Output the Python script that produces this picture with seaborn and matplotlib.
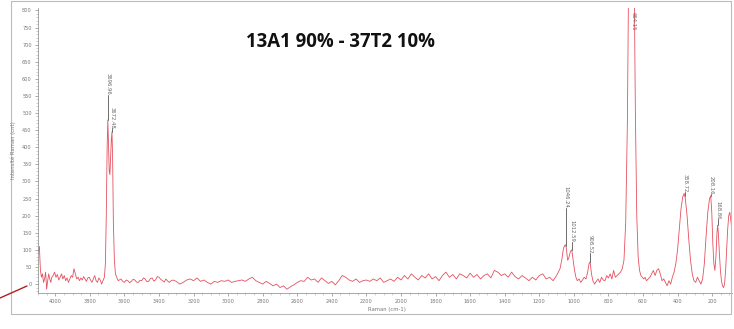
import numpy as np
import pandas as pd
import matplotlib
matplotlib.use("Agg")
import matplotlib.pyplot as plt
import seaborn as sns
from matplotlib.ticker import MultipleLocator
from matplotlib.patches import Rectangle
from matplotlib.lines import Line2D

# ---------------- data ----------------
wavenumber = [
    4098, 4092, 4086, 4080, 4074, 4068, 4062, 4056, 4050, 4044, 4038, 4032, 4026, 4020, 4012,
    4004, 3996, 3988, 3980, 3972, 3964, 3956, 3948, 3940, 3932, 3924, 3916, 3908, 3900, 3892,
    3884, 3876, 3868, 3860, 3852, 3844, 3836, 3828, 3820, 3812, 3804, 3796, 3788, 3780, 3772,
    3764, 3756, 3748, 3740, 3732, 3724, 3716, 3710, 3705, 3700, 3696, 3692, 3688, 3684, 3680,
    3676, 3672, 3668, 3664, 3658, 3652, 3645, 3636,
    3620, 3610, 3600, 3590, 3580, 3570, 3560, 3550, 3540, 3530, 3520, 3510, 3500, 3490, 3480,
    3470, 3460, 3450, 3440, 3430, 3420, 3410, 3400, 3390, 3380, 3370, 3360, 3350, 3340, 3330,
    3320, 3300, 3280, 3260, 3240, 3220, 3200, 3180, 3160, 3140, 3120, 3100, 3080, 3060, 3040,
    3020, 3000, 2980, 2960, 2940, 2920, 2900, 2880, 2860, 2840, 2820, 2800, 2780, 2760, 2740,
    2720, 2700, 2680, 2660, 2640, 2620, 2600, 2580, 2560, 2540, 2520, 2500, 2480, 2460, 2440,
    2420, 2400, 2380, 2360, 2340, 2320, 2300, 2280, 2260, 2240, 2220, 2200, 2180, 2160, 2140,
    2120, 2100, 2080, 2060, 2040, 2020, 2000, 1980, 1960, 1940, 1920, 1900, 1880, 1860, 1840,
    1820, 1800, 1780, 1760, 1740, 1720, 1700, 1680, 1660, 1640, 1620, 1600, 1580, 1560, 1540,
    1520, 1500, 1480, 1460, 1440, 1420, 1400, 1380, 1360, 1340, 1320, 1300, 1280, 1260, 1240,
    1220, 1200, 1180, 1160, 1140, 1120, 1100, 1090, 1080, 1070, 1060, 1050, 1044, 1036, 1030,
    1020, 1012, 1004, 996, 988, 980, 970, 960, 950, 940, 930, 920, 912, 906, 898,
    890, 880, 870, 860, 850, 840, 830, 820, 810, 800, 790, 780, 770, 760, 750,
    740, 730, 720, 710, 700, 690, 684, 676, 668, 660, 650, 644, 636, 628, 620,
    612, 604, 596, 588, 580, 570, 560, 550, 540, 530, 520, 510, 500, 490, 480,
    470, 460, 450, 440, 430, 420, 410, 400, 390, 380, 370, 362, 355, 345, 335,
    325, 315, 305, 295, 285, 275, 265, 255, 245, 235, 225, 215, 208, 202, 196,
    190, 184, 178, 172, 168, 164, 158, 152, 146, 140, 134, 128, 122, 116, 110,
    104, 98, 90, 85,
]
intensity = [
    95, 110, 40, 20, 30, 5, 15, 35, -15, 10, 30, 15, 5, 20, 25,
    35, 20, 28, 12, 20, 30, 15, 25, 10, 18, 5, 15, 25, 20, 45,
    30, 15, 20, 10, 18, 12, 22, 15, 8, 18, 20, 12, 5, 15, 25,
    10, 5, 18, 12, 0, 10, 20, 60, 200, 400, 480, 400, 330, 320, 370,
    420, 445, 360, 180, 70, 30, 20, 10,
    15, 8, 5, 12, 10, 4, 8, 14, 12, 6, 5, 11, 10, 18, 15,
    7, 8, 16, 18, 9, 12, 22, 20, 14, 10, 6, 15, 9, 5, 10,
    12, 8, 0, 5, 12, 15, 10, 18, 8, 12, 5, 0, 8, 5, 10,
    8, 12, 5, 8, 10, 12, 8, 15, 20, 10, 5, 0, 8, 2, -5,
    0, -10, -5, -15, -8, -2, 5, 10, 8, 20, 12, 15, 5, 18, 10,
    2, 8, -2, 10, 25, 20, 12, 8, 15, 5, 10, 12, 8, 15, 10,
    18, 5, 10, 15, 8, 20, 12, 25, 15, 30, 20, 12, 25, 18, 30,
    15, 22, 10, 25, 35, 20, 28, 15, 30, 25, 18, 32, 20, 28, 15,
    25, 30, 18, 40, 35, 25, 30, 20, 35, 22, 15, 25, 18, 10, 20,
    12, 25, 30, 15, 20, 10, 25, 35, 45, 70, 105, 115, 108, 70, 75,
    95, 100, 70, 40, 20, 10, 15, 5, 12, 20, 15, 35, 60, 65, 30,
    10, 0, 8, 15, 5, 20, 12, 10, 25, 18, 30, 15, 40, 20, 25,
    30, 35, 45, 70, 180, 480, 850, 1000, 1050, 980, 850, 500, 200, 80, 40,
    25, 20, 15, 20, 10, 15, 20, 30, 40, 25, 40, 45, 30, 10, 15,
    5, -5, 10, 0, 20, 35, 60, 100, 160, 220, 255, 265, 250, 200, 130,
    70, 30, 10, 5, 20, 10, 0, 15, 60, 140, 210, 250, 258, 210, 120,
    60, 40, 80, 150, 172, 150, 90, 40, 10, -5, -10, 0, 40, 100, 160,
    200, 210, 180, 150,
]

peak_positions = [3696, 3672, 1046, 1012, 908, 655, 358, 208, 168, 92]
peak_labels = ["3696.96", "3672.48", "1046.24", "1012.59", "908.52", "664.15",
               "358.72", "208.16", "168.86", "100.93"]
label_bases = [552, 455, 222, 123, 90, 742, 269, 262, 190, 203]

x_ticks = list(range(4000, 199, -200))
y_ticks = list(range(0, 801, 50))

# ---------------- figure ----------------
sns.set_style("white")
plt.rcParams["font.family"] = ["DejaVu Sans"]

fig = plt.figure(figsize=(7.34, 3.29), dpi=100)
ax = fig.add_axes([38 / 734, 1 - 293 / 329, (732 - 38) / 734, (293 - 8) / 329])

df = pd.DataFrame({"wavenumber": wavenumber, "intensity": intensity})
sns.lineplot(data=df, x="wavenumber", y="intensity", estimator=None, sort=False,
             color="#e5505f", lw=0.6, ax=ax)

ax.set_xlim(4100, 85)
ax.set_ylim(-26, 807)
ax.set_xticks(x_ticks)
ax.set_xticklabels([str(t) for t in x_ticks])
ax.set_yticks(y_ticks)
ax.set_yticklabels([str(t) for t in y_ticks])
ax.xaxis.set_minor_locator(MultipleLocator(50))
ax.yaxis.set_minor_locator(MultipleLocator(10))
ax.tick_params(axis="both", which="major", labelsize=3.6, labelcolor="#777777",
               color="#888888", length=2.5, width=0.5, pad=2, direction="out")
ax.tick_params(axis="both", which="minor", color="#aaaaaa", length=1.2, width=0.4, direction="out")
ax.tick_params(axis="x", which="both", bottom=True)
ax.tick_params(axis="y", which="both", left=True)
for s in ["top", "right"]:
    ax.spines[s].set_visible(False)
for s in ["left", "bottom"]:
    ax.spines[s].set_color("#999999")
    ax.spines[s].set_linewidth(0.6)
ax.set_xlabel("")
ax.set_ylabel("")

# peak annotations
wn_sorted = np.array(wavenumber[::-1], dtype=float)
in_sorted = np.array(intensity[::-1], dtype=float)
for pos, lab, base in zip(peak_positions, peak_labels, label_bases):
    pv = float(np.interp(pos, wn_sorted, in_sorted))
    if pv < base:
        ax.plot([pos, pos], [pv, base], color="#555555", lw=0.6, zorder=3)
    ax.text(pos, base, lab, rotation=-90, ha="center", va="bottom", fontsize=3.8,
            color="#666666", clip_on=True, zorder=4)

# texts
fig.text(341 / 734, 1 - 42 / 329, "13A1 90% - 37T2 10%", ha="center", va="center",
         fontsize=13.4, fontweight="bold", family=["Open Sans", "DejaVu Sans"], color="#111111")
fig.text(13 / 734, 1 - 150 / 329, "Intensité Raman (cnt)", rotation=90, ha="center",
         va="center", fontsize=3.8, color="#777777")
fig.text(368 / 734, 1 - 309 / 329, "Raman (cm-1)", ha="left", va="center",
         fontsize=3.8, color="#777777")

# frame and decoration
fig.patches.append(Rectangle((11 / 734, 1 - 314 / 329), (731 - 11) / 734, 314 / 329 - 0.002,
                             transform=fig.transFigure, fill=False, edgecolor="#bbbbbb",
                             lw=0.8))
fig.lines.append(Line2D([0 / 734, 27 / 734], [1 - 298 / 329, 1 - 286 / 329],
                        transform=fig.transFigure, color="#b02020", lw=1.0))

fig.savefig("out.png", dpi=100)
